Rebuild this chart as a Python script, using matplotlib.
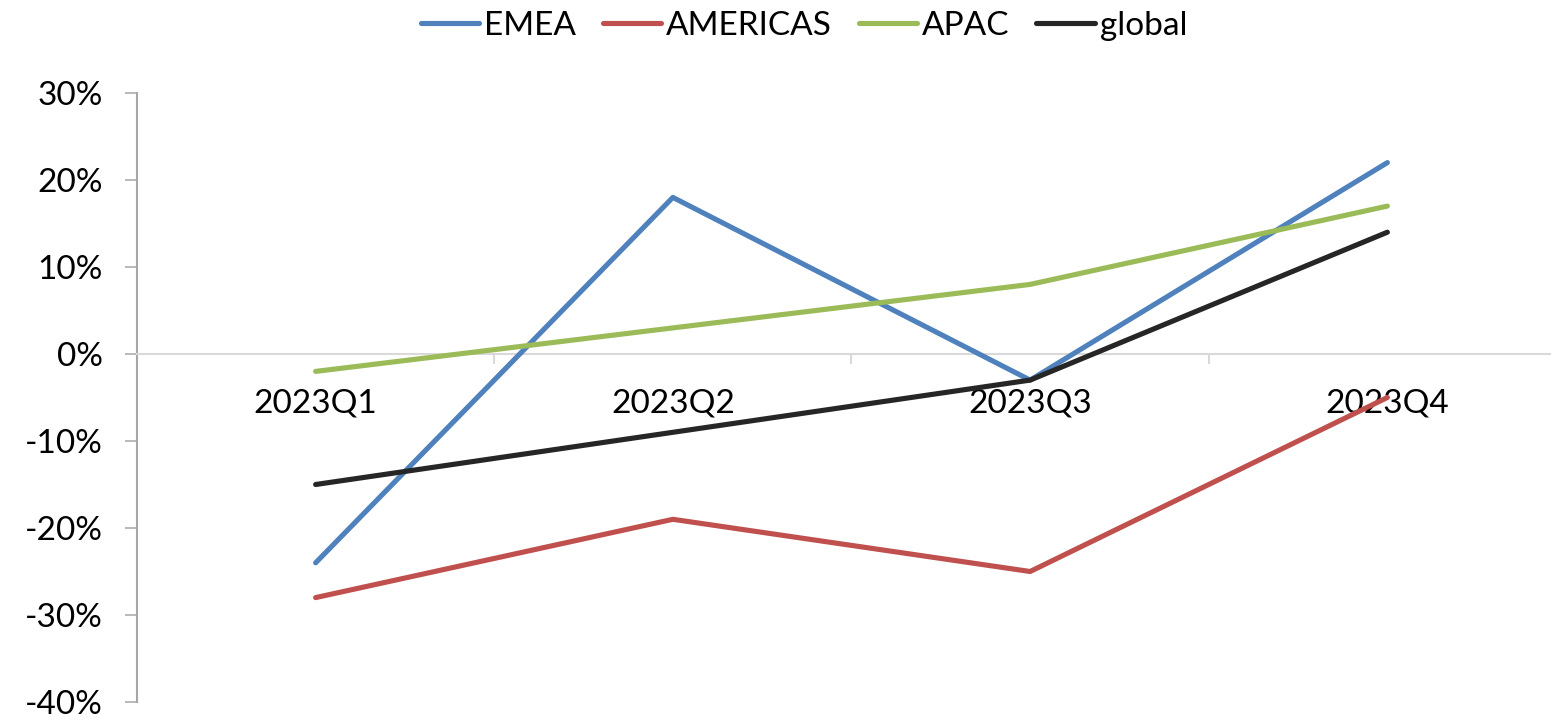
import matplotlib.pyplot as plt
from matplotlib.ticker import FuncFormatter

quarters = ["2023Q1", "2023Q2", "2023Q3", "2023Q4"]
emea = [-24, 18, -3, 22]
americas = [-28, -19, -25, -5]
apac = [-2, 3, 8, 17]
global_ = [-15, -9, -3, 14]

series = [
    ("EMEA", emea, "#4f81bd"),
    ("AMERICAS", americas, "#c0504d"),
    ("APAC", apac, "#9bbb59"),
    ("global", global_, "#262626"),
]

plt.rcParams['font.family'] = ['Lato', 'DejaVu Sans']

fig = plt.figure(figsize=(15.51, 7.2), dpi=100)
ax = fig.add_axes([137 / 1551, 1 - 702 / 720, 1429 / 1551, (702 - 93) / 720])

x = list(range(len(quarters)))
for name, vals, col in series:
    ax.plot(x, vals, color=col, lw=3.7, label=name, solid_capstyle='round',
            solid_joinstyle='round', zorder=3)

ax.set_xlim(-0.5, len(quarters) - 0.5)
ax.set_ylim(-40, 30)
ax.set_yticks(range(-40, 31, 10))
ax.yaxis.set_major_formatter(FuncFormatter(lambda v, p: f"{v:.0f}%"))

for s in ["top", "right"]:
    ax.spines[s].set_visible(False)
ax.spines["left"].set_color("#a6a6a6")
ax.spines["left"].set_linewidth(1.5)
ax.spines["bottom"].set_position(("data", 0))
ax.spines["bottom"].set_color("#d9d9d9")
ax.spines["bottom"].set_linewidth(1.5)

ax.tick_params(axis="y", direction="out", length=8.6, width=1.1, color="#a6a6a6",
               labelsize=24, pad=16)
ax.set_xticks(x)
ax.set_xticklabels(quarters)
ax.set_xticks([0.5, 1.5, 2.5], minor=True)
ax.tick_params(axis="x", which="major", length=0, labelsize=24, pad=25)
ax.tick_params(axis="x", which="minor", direction="out", length=7.5, width=1.5,
               color="#d9d9d9")

fig.legend(loc="center", bbox_to_anchor=(804 / 1551, 1 - 26 / 720), ncol=4,
           frameon=False, fontsize=24, handlelength=1.75, handletextpad=0.15,
           columnspacing=0.8, borderaxespad=0)

fig.savefig("out.png", dpi=100)
